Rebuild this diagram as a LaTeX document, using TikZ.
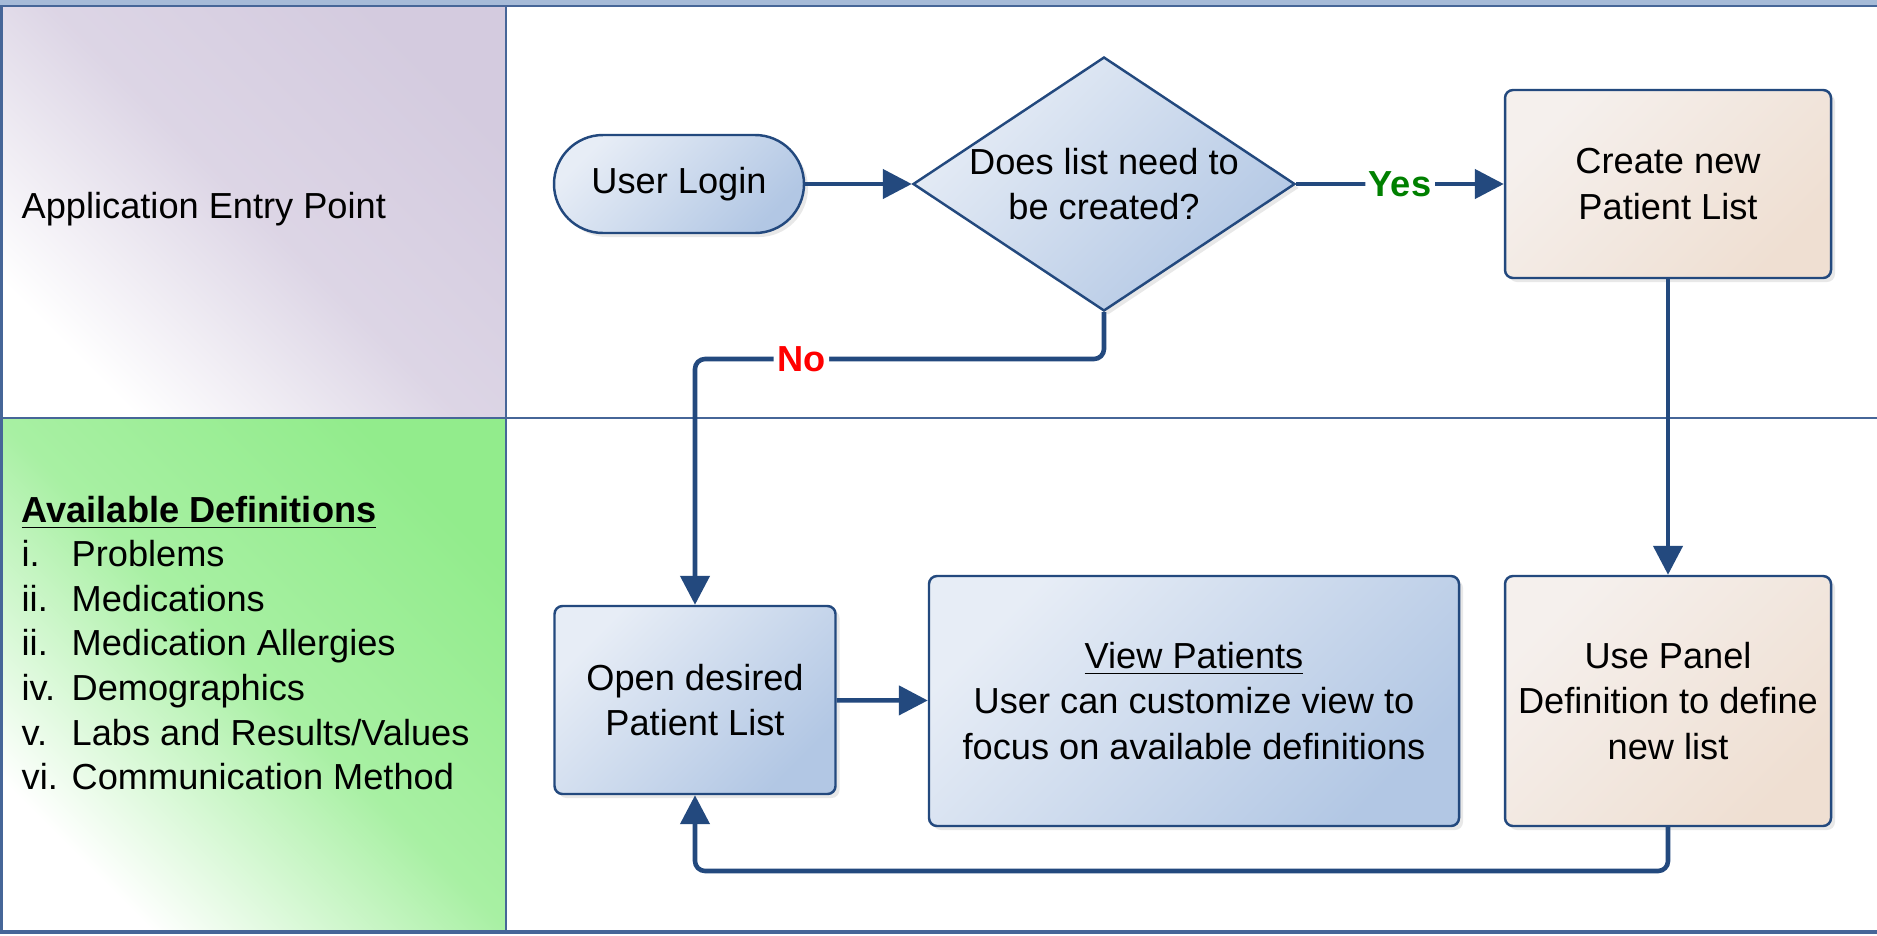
\documentclass[tikz,border=0pt]{standalone}
\usepackage{fontspec}
\setmainfont{Liberation Sans}
\usetikzlibrary{shapes.geometric,arrows.meta,shadows}
\definecolor{flowblue}{RGB}{35,73,126}
\definecolor{laneline}{RGB}{70,102,152}
\definecolor{bluelight}{RGB}{231,237,246}
\definecolor{bluedark}{RGB}{178,199,228}
\definecolor{beigelight}{RGB}{245,240,237}
\definecolor{beigedark}{RGB}{239,223,210}
\definecolor{lanepurple}{RGB}{212,203,223}
\definecolor{lanegreen}{RGB}{146,236,140}
\definecolor{headband}{RGB}{166,187,216}
\definecolor{yesgreen}{RGB}{0,128,0}
\begin{document}
\begin{tikzpicture}[
  font=\fontsize{10.3}{13}\selectfont,
  shadowed/.style={drop shadow={shadow xshift=0.04cm, shadow yshift=-0.04cm, opacity=0.18}},
  proc/.style={shadowed, draw=flowblue, line width=0.7pt, rounded corners=0.08cm, align=center,
    top color=bluelight, bottom color=bluedark, shading angle=45},
  task/.style={shadowed, draw=flowblue, line width=0.7pt, rounded corners=0.08cm, align=center,
    top color=beigelight, bottom color=beigedark, shading angle=45,
    minimum width=3.26cm, minimum height=1.88cm},
  terminal/.style={proc, rounded corners=0.49cm, minimum width=2.5cm, minimum height=0.98cm},
  decision/.style={shadowed, diamond, draw=flowblue, line width=0.7pt, inner sep=0pt,
    top color=bluelight, bottom color=bluedark, shading angle=45,
    minimum width=3.82cm, minimum height=2.54cm},
  conn/.style={draw=flowblue, line width=1.3pt, rounded corners=0.1cm,
    -{Triangle[length=0.29cm,width=0.29cm]}},
  lbl/.style={fill=white, inner sep=1pt, font=\fontsize{10.3}{13}\selectfont\bfseries}
]
\useasboundingbox (0,0) rectangle (18.77,-9.35);
\fill[white] (0,0) rectangle (18.77,-9.35);
\shade[top color=lanepurple, bottom color=white, middle color=lanepurple!80, shading angle=-45]
  (0.02,-0.06) rectangle (5.06,-4.18);
\shade[top color=lanegreen, bottom color=white, middle color=lanegreen!80, shading angle=-45]
  (0.02,-4.18) rectangle (5.06,-9.32);
\fill[headband] (0,0) rectangle (18.77,-0.06);
\draw[laneline, line width=0.5pt] (0,-0.06) -- (18.77,-0.06);
\draw[laneline, line width=0.9pt] (0.015,-0.06) -- (0.015,-9.32) -- (18.77,-9.32);
\draw[laneline, line width=0.6pt] (5.06,-0.06) -- (5.06,-9.32);
\draw[laneline, line width=0.6pt] (0,-4.18) -- (18.77,-4.18);

\node[anchor=west, inner xsep=0pt] (entry) at (0.21,-2.09) {Application Entry Point};
\node[anchor=west, inner xsep=0pt, align=left, font=\fontsize{10.3}{12.7}\selectfont] (defs) at (0.21,-6.43)
  {\textbf{\underline{Available Definitions}}\\
   \makebox[0.5cm][l]{i.}Problems\\
   \makebox[0.5cm][l]{ii.}Medications\\
   \makebox[0.5cm][l]{ii.}Medication Allergies\\
   \makebox[0.5cm][l]{iv.}Demographics\\
   \makebox[0.5cm][l]{v.}Labs and Results/Values\\
   \makebox[0.5cm][l]{vi.}Communication Method};

\node[terminal] (login) at (6.79,-1.84) {User Login};
\node[decision, label={[align=center]center:Does list need to\\be created?}] (dec) at (11.04,-1.84) {};
\node[task] (create) at (16.68,-1.84) {Create new\\Patient List};
\node[proc, minimum width=2.81cm, minimum height=1.88cm] (open) at (6.95,-7.00) {Open desired\\Patient List};
\node[proc, minimum width=5.30cm, minimum height=2.50cm] (view) at (11.94,-7.01)
  {\underline{View Patients}\\User can customize view to\\focus on available definitions};
\node[task, minimum height=2.50cm] (panel) at (16.68,-7.01) {Use Panel\\Definition to define\\new list};

\coordinate (nobend) at (11.04,-3.59);
\coordinate (loopbend) at (6.95,-8.71);
\draw[conn] (login) -- (dec);
\draw[conn] (dec) -- node[lbl, text=yesgreen] {Yes} (create);
\draw[conn] (dec.south) -- (nobend) -| node[lbl, text=red, pos=0.37] {No} (open.north);
\draw[conn] (create) -- (panel);
\draw[conn] (open) -- (view);
\draw[conn] (panel.south) |- (loopbend) -- (open.south);
\end{tikzpicture}
\end{document}
